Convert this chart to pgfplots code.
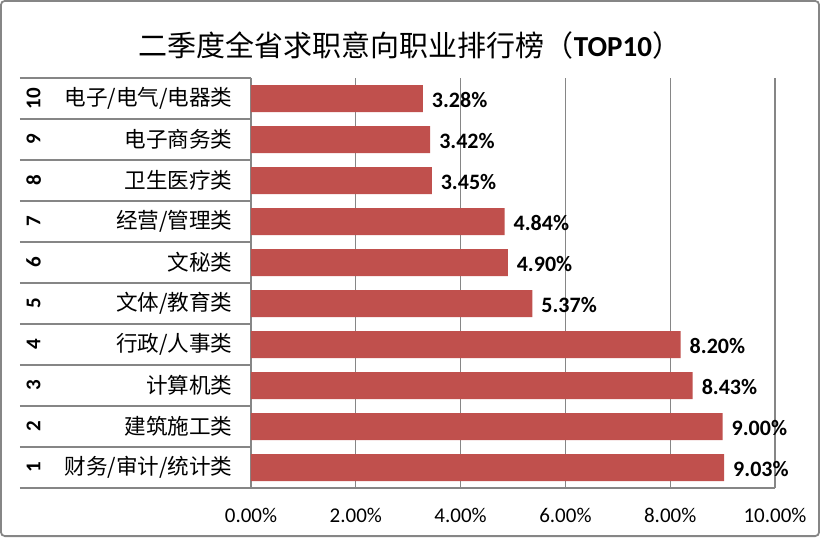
\documentclass[border=0pt]{standalone}
\usepackage{fontspec}
\usepackage{graphicx}
\usepackage{pgfplots}
\pgfplotsset{compat=1.18}
\setmainfont{Carlito}
\newfontfamily\cjk{Noto Sans CJK SC}
\newfontfamily\carlito{Carlito}
\definecolor{barred}{HTML}{C0504D}
\definecolor{lg}{HTML}{868686}
\newcommand\cat[2]{\hbox to 106.5pt{\makebox[14pt]{$\vcenter{\hbox{\rotatebox{90}{\carlito\bfseries\fontsize{10.5}{12}\selectfont #1}}}$}\hfill$\vcenter{\hbox{\cjk\fontsize{10.8}{12}\selectfont #2}}$}}
\begin{document}
\begin{tikzpicture}
\useasboundingbox (0,0) rectangle (410pt,268.5pt);
\draw[lg, line width=0.9pt, rounded corners=2pt] (0.45pt,0.45pt) rectangle (409.55pt,268.05pt);
\node[font=\cjk\fontsize{14.5}{16}\selectfont] at (205pt,246pt) {二季度全省求职意向职业排行榜（{\carlito\bfseries TOP10}）};
\begin{axis}[
  at={(125.5pt,24.5pt)}, anchor=south west,
  width=262pt, height=205pt, scale only axis,
  xbar, bar width=13.5pt,
  xmin=0, xmax=10, ymin=0.5, ymax=10.5,
  axis x line*=bottom, axis y line*=left,
  axis line style={lg, line width=0.6pt},
  xmajorgrids, grid style={lg, line width=0.6pt},
  xtick={0,2,4,6,8,10},
  ytick={1,2,3,4,5,6,7,8,9,10},
  yticklabels={
    {\cat{1}{财务/审计/统计类}},
    {\cat{2}{建筑施工类}},
    {\cat{3}{计算机类}},
    {\cat{4}{行政/人事类}},
    {\cat{5}{文体/教育类}},
    {\cat{6}{文秘类}},
    {\cat{7}{经营/管理类}},
    {\cat{8}{卫生医疗类}},
    {\cat{9}{电子商务类}},
    {\cat{10}{电子/电气/电器类}}},
  major tick length=0pt,
  extra y ticks={0.5,1.5,2.5,3.5,4.5,5.5,6.5,7.5,8.5,9.5,10.5},
  extra y tick labels={},
  extra y tick style={major tick length=115.5pt, tick align=outside,
    major tick style={lg, line width=0.6pt}, yticklabel=\empty},
  clip=false,
  /pgf/number format/assume math mode=true,
  xticklabel={\pgfmathprintnumber[fixed,fixed zerofill,precision=2]{\tick}\%},
  xticklabel style={font=\carlito\fontsize{10.5}{12}\selectfont, yshift=-6.5pt},
  yticklabel style={anchor=east, inner sep=0pt, xshift=-9pt},
  nodes near coords={\pgfmathprintnumber[fixed,fixed zerofill,precision=2]{\pgfplotspointmeta}\%},
  nodes near coords style={font=\carlito\bfseries\fontsize{11}{12}\selectfont, black, xshift=1pt, yshift=-0.8pt},
  point meta=x,
]
\addplot[fill=barred, draw=none] coordinates {
  (9.03,1) (9.00,2) (8.43,3) (8.20,4) (5.37,5)
  (4.90,6) (4.84,7) (3.45,8) (3.42,9) (3.28,10)};
\end{axis}
\end{tikzpicture}
\end{document}
